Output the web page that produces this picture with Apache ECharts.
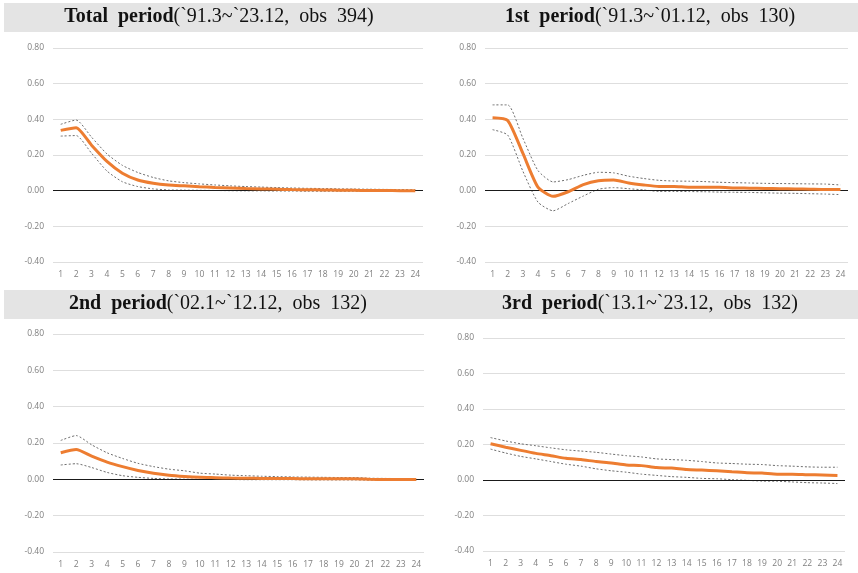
<!DOCTYPE html>
<html>
<head>
<meta charset="utf-8">
<script src="https://cdn.jsdelivr.net/npm/echarts@6/dist/echarts.min.js"></script>
<style>
  html, body { margin: 0; padding: 0; background: #ffffff; }
  #wrap { position: relative; width: 858px; height: 573px; overflow: hidden; }
  .panel { position: absolute; }
  #p4 { filter: blur(0.6px); }
</style>
</head>
<body>
<div id="wrap">
  <div class="panel" id="p1" style="left:0;top:0;width:430px;height:288px"></div>
  <div class="panel" id="p2" style="left:430px;top:0;width:428px;height:288px"></div>
  <div class="panel" id="p3" style="left:0;top:288px;width:430px;height:285px"></div>
  <div class="panel" id="p4" style="left:430px;top:288px;width:428px;height:285px"></div>
</div>
<script>
// Horizon (months after the shock)
const horizons = ['1','2','3','4','5','6','7','8','9','10','11','12','13','14','15','16','17','18','19','20','21','22','23','24'];
const yTicks = [-0.4, -0.2, 0, 0.2, 0.4, 0.6, 0.8];

// Total period (`91.3~`23.12)
const totalIrf   = [0.338,0.353,0.255,0.164,0.098,0.060,0.042,0.032,0.027,0.022,0.018,0.015,0.012,0.010,0.008,0.006,0.005,0.004,0.003,0.002,0.001,0.001,0.000,0.000];
const totalUpper = [0.372,0.396,0.300,0.206,0.142,0.102,0.074,0.055,0.045,0.038,0.032,0.027,0.023,0.020,0.017,0.015,0.013,0.012,0.010,0.009,0.008,0.007,0.006,0.005];
const totalLower = [0.306,0.309,0.210,0.110,0.050,0.023,0.010,0.004,0.003,0.002,0.001,0.000,-0.001,-0.001,-0.002,-0.002,-0.003,-0.003,-0.003,-0.003,-0.004,-0.004,-0.004,-0.004];

// 1st period (`91.3~`01.12)
const p1Irf   = [0.409,0.394,0.210,0.020,-0.032,-0.006,0.034,0.056,0.060,0.043,0.032,0.024,0.024,0.019,0.019,0.019,0.015,0.014,0.012,0.011,0.010,0.008,0.006,0.006];
const p1Upper = [0.481,0.481,0.295,0.113,0.049,0.062,0.086,0.103,0.100,0.081,0.068,0.058,0.054,0.053,0.051,0.047,0.045,0.043,0.041,0.040,0.039,0.038,0.037,0.032];
const p1Lower = [0.342,0.312,0.110,-0.064,-0.113,-0.072,-0.030,0.008,0.017,0.011,0.004,-0.004,-0.004,-0.005,-0.006,-0.008,-0.009,-0.010,-0.012,-0.014,-0.015,-0.017,-0.019,-0.022];

// 2nd period (`02.1~`12.12)
const p2Irf   = [0.146,0.164,0.128,0.095,0.070,0.049,0.034,0.023,0.016,0.011,0.009,0.007,0.006,0.005,0.004,0.004,0.003,0.003,0.003,0.003,0.000,-0.001,-0.001,-0.001];
const p2Upper = [0.214,0.241,0.190,0.146,0.115,0.088,0.070,0.056,0.047,0.034,0.029,0.023,0.020,0.017,0.015,0.013,0.012,0.011,0.010,0.010,0.006,0.005,0.004,0.004];
const p2Lower = [0.079,0.086,0.065,0.038,0.020,0.011,0.005,0.002,0.001,0.000,-0.001,-0.001,-0.002,-0.002,-0.002,-0.002,-0.003,-0.003,-0.003,-0.003,-0.004,-0.004,-0.004,-0.004];

// 3rd period (`13.1~`23.12)
const p3Irf   = [0.204,0.185,0.167,0.150,0.137,0.122,0.115,0.104,0.096,0.085,0.081,0.070,0.067,0.059,0.056,0.052,0.046,0.041,0.039,0.033,0.033,0.030,0.028,0.026];
const p3Upper = [0.239,0.220,0.204,0.193,0.181,0.170,0.163,0.156,0.146,0.137,0.130,0.119,0.115,0.111,0.104,0.096,0.093,0.089,0.087,0.081,0.078,0.074,0.072,0.072];
const p3Lower = [0.174,0.152,0.133,0.119,0.104,0.089,0.078,0.063,0.052,0.044,0.033,0.026,0.019,0.015,0.009,0.007,0.002,-0.002,-0.006,-0.007,-0.011,-0.015,-0.017,-0.020];

const ORANGE = '#ED7D31';
const BAND = '#6f6f6f';
const LABEL = '#7f7f7f';
const SERIF = '"Liberation Serif", "Times New Roman", serif';

function panelOption(cfg) {
  return {
    animation: false,
    backgroundColor: '#ffffff',
    graphic: [{
      type: 'rect',
      shape: { x: cfg.barX, y: cfg.barY, width: cfg.barW, height: 29 },
      style: { fill: '#e4e4e4' },
      silent: true,
      z: 0
    }],
    title: {
      text: '{b|' + cfg.bold + '}{r|' + cfg.rest + '}',
      left: cfg.titleX,
      top: cfg.barY + 4,
      textAlign: 'center',
      padding: 0,
      textStyle: {
        fontWeight: 'normal',
        rich: {
          b: { fontFamily: SERIF, fontSize: 20, fontWeight: 'bold', color: '#111111' },
          r: { fontFamily: SERIF, fontSize: 20, fontWeight: 'normal', color: '#111111' }
        }
      }
    },
    grid: { left: cfg.grid[0], right: cfg.grid[1], top: cfg.grid[2], bottom: cfg.grid[3], containLabel: false },
    xAxis: {
      type: 'category',
      data: horizons,
      boundaryGap: true,
      axisLine: { show: false },
      axisTick: { show: false },
      axisLabel: { color: LABEL, fontSize: 8.5, fontFamily: '"Open Sans", "DejaVu Sans", sans-serif', margin: 8, interval: 0 },
      splitLine: { show: false }
    },
    yAxis: {
      type: 'value',
      min: yTicks[0],
      max: yTicks[yTicks.length - 1],
      interval: 0.2,
      axisLine: { show: false },
      axisTick: { show: false },
      axisLabel: { color: LABEL, fontSize: 8.5, fontFamily: '"Open Sans", "DejaVu Sans", sans-serif', margin: 9, formatter: v => v.toFixed(2) },
      splitLine: { lineStyle: { color: '#dedede', width: 1 } }
    },
    series: [
      {
        name: 'upper', type: 'line', data: cfg.upper, symbol: 'none', smooth: 0.2,
        lineStyle: { color: BAND, width: 1, type: [2, 2] }, z: 3,
        markLine: {
          silent: true, symbol: 'none', label: { show: false },
          lineStyle: { color: '#1a1a1a', width: 1.2, type: 'solid' },
          data: [{ yAxis: 0 }]
        }
      },
      {
        name: 'lower', type: 'line', data: cfg.lower, symbol: 'none', smooth: 0.2,
        lineStyle: { color: BAND, width: 1, type: [2, 2] }, z: 3
      },
      {
        name: 'irf', type: 'line', data: cfg.irf, symbol: 'none', smooth: 0.2,
        lineStyle: { color: ORANGE, width: 3 }, z: 5
      }
    ]
  };
}

const panels = [
  { id: 'p1', bold: 'Total  period', rest: '(`91.3~`23.12,  obs  394)', barX: 4, barY: 3, barW: 426, titleX: 219,
    grid: [53, 7, 48, 26], irf: totalIrf, upper: totalUpper, lower: totalLower },
  { id: 'p2', bold: '1st  period', rest: '(`91.3~`01.12,  obs  130)', barX: 0, barY: 3, barW: 428, titleX: 220,
    grid: [55, 10, 48, 26], irf: p1Irf, upper: p1Upper, lower: p1Lower },
  { id: 'p3', bold: '2nd  period', rest: '(`02.1~`12.12,  obs  132)', barX: 4, barY: 2, barW: 426, titleX: 218,
    grid: [53, 6, 46, 21], irf: p2Irf, upper: p2Upper, lower: p2Lower },
  { id: 'p4', bold: '3rd  period', rest: '(`13.1~`23.12,  obs  132)', barX: 0, barY: 2, barW: 428, titleX: 220,
    grid: [53, 13, 50, 22], irf: p3Irf, upper: p3Upper, lower: p3Lower }
];

panels.forEach(cfg => {
  const chart = echarts.init(document.getElementById(cfg.id), null, { renderer: 'canvas' });
  chart.setOption(panelOption(cfg));
});
</script>
</body>
</html>
